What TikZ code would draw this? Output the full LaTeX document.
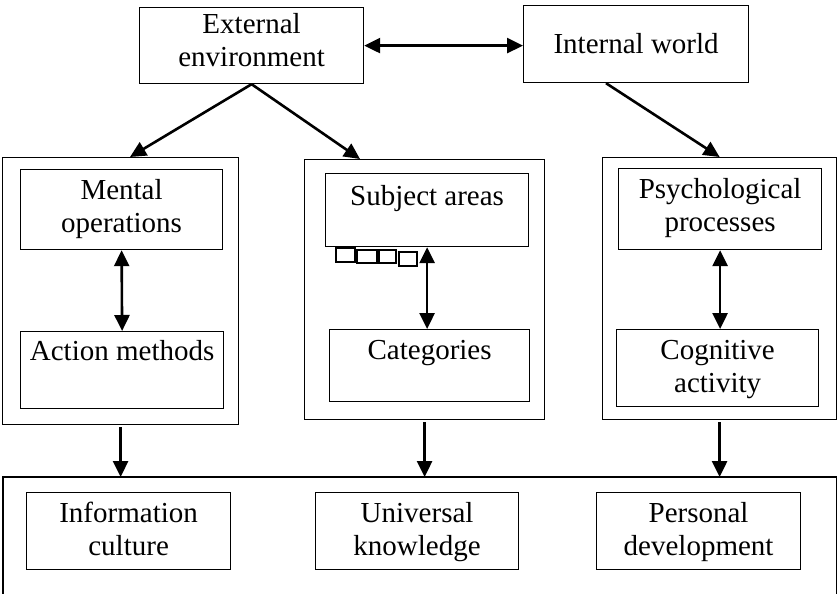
\documentclass[tikz,border=0pt]{standalone}
\usepackage{fontspec}
\setmainfont{Liberation Serif}
\usetikzlibrary{arrows.meta}

\newcommand{\celltext}[4]{\parbox[c][#2][t]{#1}{\centering\vspace*{#3}#4}}

\begin{document}
\begin{tikzpicture}[x=0.5pt, y=-0.5pt,
	every node/.style={font=\fontsize{14.5}{16.7}\selectfont},
	>={Triangle[length=8pt, width=7.5pt]},
	cell/.style={draw, line width=0.6pt, inner sep=0pt, anchor=north west},
	frame/.style={line width=0.6pt},
	arr/.style={line width=1.3pt}]
	\useasboundingbox (0,0) rectangle (838,593);
	% top row
	\node[cell] (ext) at (139,7) {\celltext{112pt}{38pt}{2.7pt}{External\\environment}};
	\node[cell] (int) at (523,5) {\celltext{112.5pt}{38.5pt}{13.7pt}{Internal world}};
	% three blocks
	\node[cell, minimum width=118pt, minimum height=133.5pt] (lft) at (2,157) {};
	\node[cell] (mental) at (20,169) {\celltext{101pt}{40pt}{4.7pt}{Mental\\operations}};
	\node[cell] (action) at (20,331) {\celltext{101.5pt}{38.5pt}{4.2pt}{Action methods}};
	\node[cell, minimum width=120pt, minimum height=130pt] (mid) at (304,159) {};
	\node[cell] (subject) at (325,173) {\celltext{101.5pt}{36.5pt}{5.7pt}{Subject areas}};
	\node[cell] (categories) at (329,329) {\celltext{100pt}{36pt}{5.5pt}{Categories}};
	\node[cell, minimum width=117pt, minimum height=131pt] (rgt) at (602,157) {};
	\node[cell] (psych) at (618,168) {\celltext{101.5pt}{40.5pt}{4.7pt}{Psychological\\processes}};
	\node[cell] (cog) at (616,329) {\celltext{101pt}{38.5pt}{5.3pt}{Cognitive\\activity}};
	\foreach \xa/\ya/\xb/\yb in {336/248/355/262, 357/250/377/263, 379/250/396/263, 399/252/417/266}
		\draw[frame] (\xa,\ya) rectangle (\xb,\yb);
	% results
	\node[inner sep=0pt, anchor=north west, minimum width=416.5pt, minimum height=58pt] (resbox) at (3,477) {};
	\draw[frame] (resbox.south west) |- (resbox.north east) -- (resbox.south east);
	\node[cell] (info) at (26,492) {\celltext{102pt}{38.5pt}{4.7pt}{Information\\culture}};
	\node[cell] (univ) at (315,492) {\celltext{101.5pt}{38.5pt}{4.7pt}{Universal\\knowledge}};
	\node[cell] (pers) at (596,492) {\celltext{102pt}{38.5pt}{4.7pt}{Personal\\development}};
	% arrows
	\draw[arr, <->] (ext.east) -- (ext.east -| int.west);
	\draw[arr, ->] (ext.south) -- ([xshift=64pt]lft.north west);
	\draw[arr, ->] (ext.south) -- ([xshift=28pt]mid.north west);
	\draw[arr, ->] ([xshift=41.5pt]int.south west) -- (rgt.north);
	\draw[arr, <->] (mental.south) -- (action.north);
	\draw[arr, <->] (subject.south) -- (subject.south |- categories.north);
	\draw[arr, <->] (psych.south) -- (psych.south |- cog.north);
	\foreach \b in {lft, mid, rgt}
		\draw[arr, ->] ([yshift=-1pt]\b.south) -- (\b.south |- resbox.north);
\end{tikzpicture}
\end{document}
